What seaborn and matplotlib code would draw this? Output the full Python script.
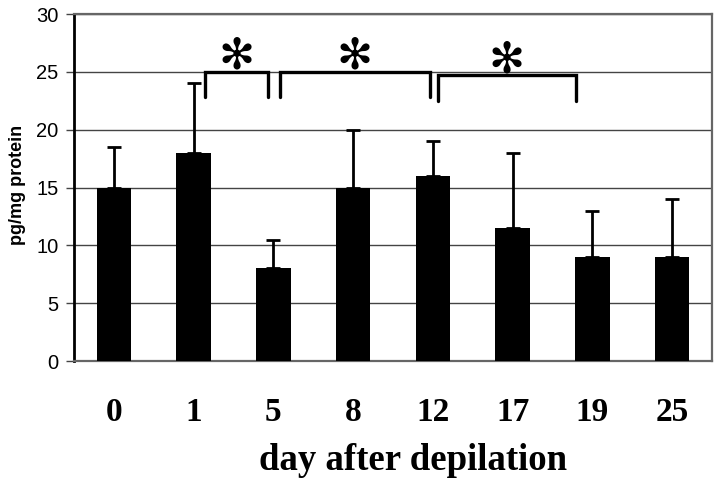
import matplotlib
matplotlib.use("Agg")
import matplotlib.pyplot as plt
import seaborn as sns
import pandas as pd

# values
days = ["0", "1", "5", "8", "12", "17", "19", "25"]
mean_level = [15, 18, 8, 15, 16, 11.5, 9, 9]
upper_error = [3.5, 6, 2.5, 5, 3, 6.5, 4, 5]

# significance brackets: (bar from, bar to), bracket top level
sig_pairs = [(1, 2), (2, 4), (4, 6)]
sig_level = [25, 25, 24.7]
# hand-drawn look: small insets from the bar centres
left_inset = [0.14, 0.08, 0.06]
right_inset = [0.07, 0.04, 0.21]

sns.set_style("white")
plt.rcParams["font.family"] = ["Liberation Sans", "DejaVu Sans"]
plt.rcParams["text.color"] = "black"
plt.rcParams["axes.labelcolor"] = "black"
plt.rcParams["xtick.color"] = "black"
plt.rcParams["ytick.color"] = "black"

df = pd.DataFrame({"day": days, "level": mean_level, "err": upper_error})

fig = plt.figure(figsize=(7.2, 4.95), dpi=100)
ax = fig.add_axes([0.1028, 0.2707, 0.8861, 0.701])

sns.barplot(data=df, x="day", y="level", order=days, color="black",
            width=0.43, errorbar=None, saturation=1, edgecolor="black",
            linewidth=0, ax=ax, zorder=3)
ax.errorbar(range(len(days)), df["level"], yerr=[[0] * len(days), df["err"]],
            fmt="none", ecolor="black", elinewidth=2, capsize=5, capthick=2,
            zorder=2)

# brackets + asterisks
for (i, j), top, li, ri in zip(sig_pairs, sig_level, left_inset, right_inset):
    x0, x1 = i + li, j - ri
    ax.plot([x0, x0, x1, x1], [top - 2.2, top, top, top - 2.2],
            color="black", lw=2.4, solid_joinstyle="miter", zorder=4)
    ax.text((x0 + x1) / 2, top + 1.3, "\u273b", ha="center", va="center",
            fontsize=31, color="black", family="DejaVu Sans", zorder=5)

ax.set_xlim(-0.5, len(days) - 0.5)
ax.set_ylim(0, 30)
ax.set_yticks(range(0, 31, 5))
ax.yaxis.grid(True, color="#444444", lw=1)
ax.set_axisbelow(True)

for side in ["top", "right", "bottom"]:
    ax.spines[side].set_color("#666666")
    ax.spines[side].set_linewidth(1.6)
ax.spines["left"].set_color("black")
ax.spines["left"].set_linewidth(2)

ax.tick_params(axis="y", direction="out", length=6, width=1, color="#444444",
               labelcolor="black", pad=5, labelsize=14.5, left=True)
ax.tick_params(axis="x", length=0, pad=26, labelcolor="black")
for lab in ax.get_xticklabels():
    lab.set_fontfamily("Liberation Serif")
    lab.set_fontweight("bold")
    lab.set_fontsize(24)

ax.set_xlabel("day after depilation", family="Liberation Serif",
              fontweight="bold", fontsize=26.5, color="black")
ax.xaxis.set_label_coords(0.532, -0.235)
ax.set_ylabel("pg/mg protein", fontweight="bold", fontsize=13, color="black")
ax.yaxis.set_label_coords(-0.075, 0.507)

fig.savefig("out.png", dpi=100)
